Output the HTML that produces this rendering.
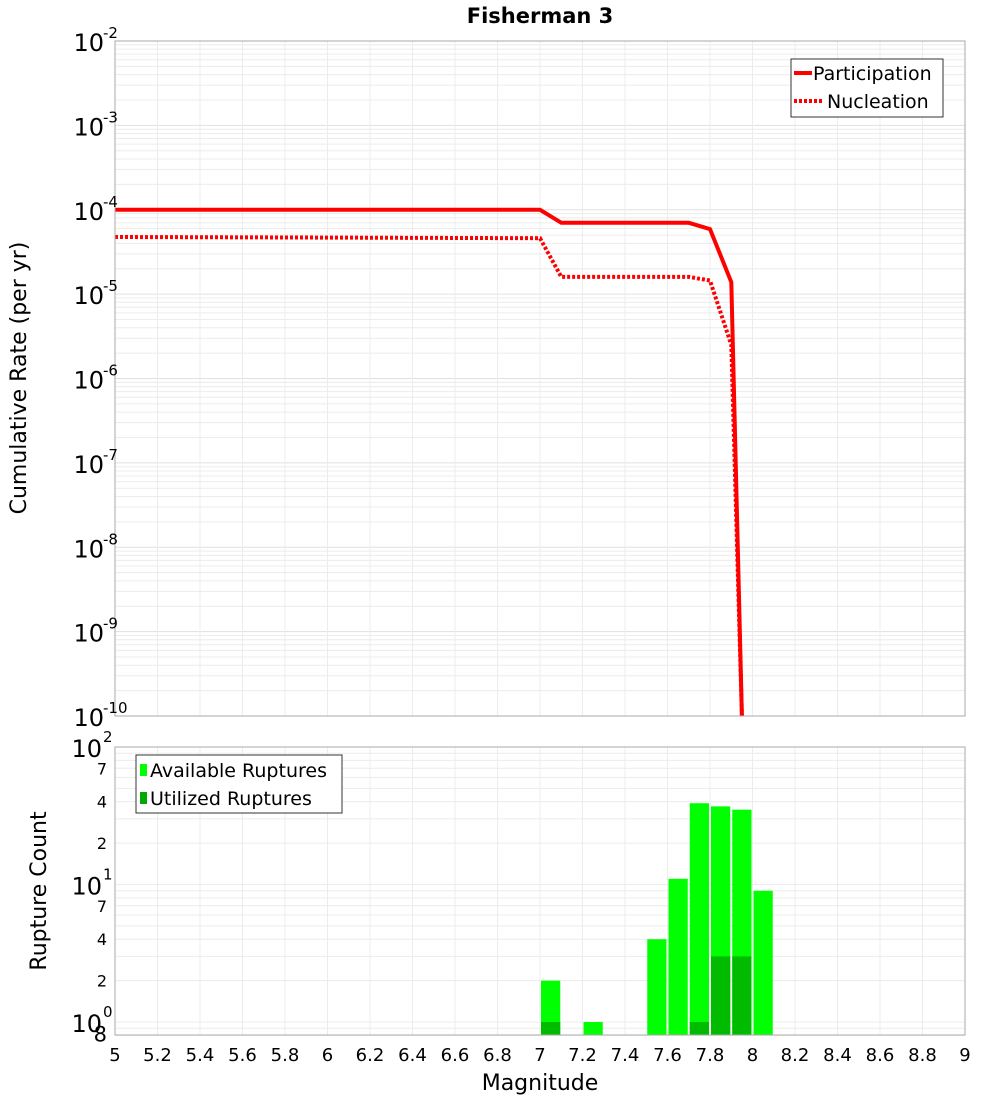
<!DOCTYPE html>
<html><head><meta charset="utf-8"><style>
html,body{margin:0;padding:0;background:#fff}
svg{display:block;font-family:"DejaVu Sans","Liberation Sans",sans-serif}
</style></head><body>
<svg id="c" width="1000" height="1100" viewBox="0 0 1000 1100" xmlns="http://www.w3.org/2000/svg">
<text x="540" y="23" text-anchor="middle" font-size="21" font-weight="bold">Fisherman 3</text>
<g id="topPlot"></g>
<g id="botPlot"></g>
<text transform="translate(26,378) rotate(-90)" text-anchor="middle" font-size="22">Cumulative Rate (per yr)</text>
<text transform="translate(46,891) rotate(-90)" text-anchor="middle" font-size="22">Rupture Count</text>
<text x="540" y="1090" text-anchor="middle" font-size="22">Magnitude</text>
</svg>
<script>
// data
const partMags = [5.0, 7.0, 7.1, 7.7, 7.8, 7.9, 7.95];
const partRates = [1e-4, 1e-4, 7e-5, 7e-5, 5.9e-5, 1.39e-5, 1e-10];
const nuclMags = [5.0, 7.0, 7.1, 7.7, 7.8, 7.9, 7.95];
const nuclRates = [4.75e-5, 4.6e-5, 1.6e-5, 1.6e-5, 1.45e-5, 2.5e-6, 1e-10];
const binStarts = [7.0, 7.2, 7.5, 7.6, 7.7, 7.8, 7.9, 8.0];
const availCounts = [2, 1, 4, 11, 39, 37, 35, 9];
const usedCounts = [1, 0, 0, 0, 1, 3, 3, 0];
const xTicks = [5,5.2,5.4,5.6,5.8,6,6.2,6.4,6.6,6.8,7,7.2,7.4,7.6,7.8,8,8.2,8.4,8.6,8.8,9];

const NS="http://www.w3.org/2000/svg";
function mk(parent,tag,attrs){const e=document.createElementNS(NS,tag);for(const k in attrs)e.setAttribute(k,attrs[k]);parent.appendChild(e);return e;}
const X0=115,X1=965;
const xs=m=>X0+(m-5)/4*(X1-X0);
const T0=41,T1=716;
const yTop=v=>T0+(-2-Math.log10(v))/8*(T1-T0);
const B0=747,B1=1035;
const yBot=v=>1022-Math.log10(v)*137.5;

const topG=document.getElementById('topPlot'), botG=document.getElementById('botPlot');
// top grid
for(let d=-10;d<-2;d++){for(let k=1;k<10;k++){const y=yTop(k*Math.pow(10,d));
 const l=mk(topG,'line',{x1:X0,x2:X1,y1:y,y2:y,stroke:k==1?'#e0e0e0':'#ececec','stroke-width':1});
 
 }}
for(const t of xTicks){const l=mk(topG,'line',{x1:xs(t),x2:xs(t),y1:T0,y2:T1,stroke:'#ececec'});
 
 }
// bottom grid
for(let d=-1;d<2;d++){for(let k=1;k<10;k++){const v=k*Math.pow(10,d);if(v<0.8)continue;const y=yBot(v);
 const l=mk(botG,'line',{x1:X0,x2:X1,y1:y,y2:y,stroke:'#ececec'});
 
 }}
for(const t of xTicks){const l=mk(botG,'line',{x1:xs(t),x2:xs(t),y1:B0,y2:B1,stroke:'#ececec'});
 
 }
// top lines
function path(ms,vs){return ms.map((m,i)=>(i?'L':'M')+xs(m).toFixed(1)+','+Math.min(yTop(vs[i]),T1+2).toFixed(1)).join(' ');}
const cp=document.createElementNS(NS,'clipPath');cp.setAttribute('id','tc');mk(cp,'rect',{x:X0,y:T0,width:X1-X0,height:T1-T0});topG.appendChild(cp);
const p1=mk(topG,'path',{d:path(partMags,partRates),fill:'none',stroke:'#ff0000','stroke-width':4,'clip-path':'url(#tc)'});


const p2=mk(topG,'path',{d:path(nuclMags,nuclRates),fill:'none',stroke:'#ff0000','stroke-width':4,'stroke-dasharray':'3,2','clip-path':'url(#tc)'});


// top frame
const f1=mk(topG,'rect',{x:X0,y:T0,width:X1-X0,height:T1-T0,fill:'none',stroke:'#aaa'});


// top y labels
for(let d=-10;d<=-2;d++){const y=yTop(Math.pow(10,d));
 const t=mk(topG,'text',{x:104,y:y+10,'text-anchor':'end','font-size':24});
 
 
 t.textContent='10';
 const s=mk(topG,'text',{x:103,y:y-3,'font-size':15});
 
 
 s.textContent=String(d);}
// legend top
const lg=mk(topG,'g',{});


mk(lg,'rect',{x:791,y:59,width:152,height:58,fill:'#fff',stroke:'#333'});
mk(lg,'line',{x1:794,x2:812,y1:73,y2:73,stroke:'#f00','stroke-width':4});
mk(lg,'line',{x1:794,x2:822,y1:101,y2:101,stroke:'#f00','stroke-width':4,'stroke-dasharray':'3,2'});
const lt1=mk(lg,'text',{x:813,y:80,'font-size':19});lt1.textContent='Participation';


const lt2=mk(lg,'text',{x:827,y:108,'font-size':19});lt2.textContent='Nucleation';


// bars
binStarts.forEach((b,i)=>{const x=xs(b)+1,w=xs(b+0.1)-xs(b)-2;
 const y=yBot(availCounts[i]);
 const r=mk(botG,'rect',{x:x,y:y,width:w,height:B1-y,fill:'#00ff00'});
 
 
 if(usedCounts[i]>0){const yu=yBot(usedCounts[i]);
  const u=mk(botG,'rect',{x:x,y:yu,width:w,height:B1-yu,fill:'#00bb00'});
  
  }});
const f2=mk(botG,'rect',{x:X0,y:B0,width:X1-X0,height:B1-B0,fill:'none',stroke:'#aaa'});


// bottom y labels
[[100,'2'],[10,'1'],[1,'0']].forEach(([v,e])=>{const y=yBot(v);
 const t=mk(botG,'text',{x:102,y:y+10,'text-anchor':'end','font-size':24});t.textContent='10';
 
 
 const s=mk(botG,'text',{x:103,y:y-5,'font-size':15});s.textContent=e;
 
 });
[[70,'7'],[40,'4'],[20,'2'],[7,'7'],[4,'4'],[2,'2'],[0.8,'8']].forEach(([v,l])=>{const y=yBot(v);
 const t=mk(botG,'text',{x:107,y:y+6,'text-anchor':'end','font-size':v==0.8?21:16});t.textContent=l;
 
 });
// x labels
for(const tk of xTicks){const t=mk(botG,'text',{x:xs(tk),y:1061,'text-anchor':'middle','font-size':18});
 t.textContent=String(tk);
 
 }
// legend bottom
const lb=mk(botG,'g',{});


mk(lb,'rect',{x:136,y:755,width:206,height:58,fill:'#fff',stroke:'#333'});
mk(lb,'rect',{x:140,y:764,width:7,height:12,fill:'#00ff00'});
mk(lb,'rect',{x:140,y:792,width:7,height:12,fill:'#00aa00'});
const b1=mk(lb,'text',{x:150,y:777,'font-size':19});b1.textContent='Available Ruptures';


const b2=mk(lb,'text',{x:150,y:805,'font-size':19});b2.textContent='Utilized Ruptures';


</script>
</body></html>
